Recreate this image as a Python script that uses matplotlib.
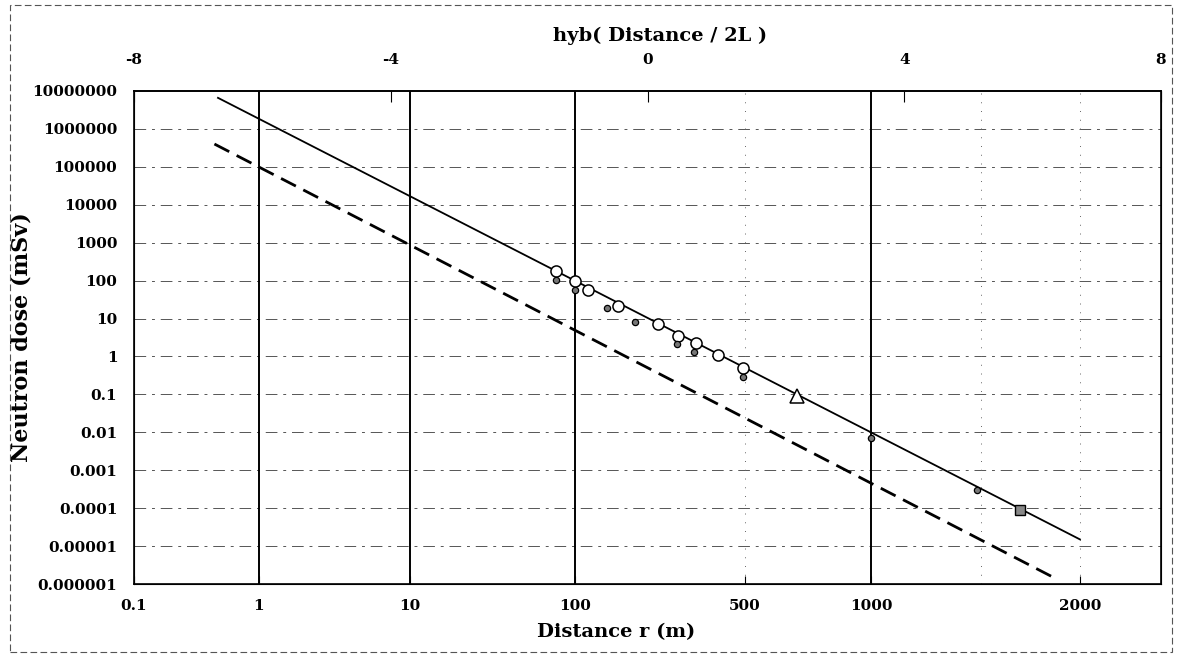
import numpy as np
import matplotlib
matplotlib.use('Agg')
import matplotlib.pyplot as plt
from matplotlib.patches import Rectangle
from matplotlib.ticker import NullLocator

# ---- hybrid distance scale calibration: distance r (m) -> hyb(Distance/2L)
CAL_R = [0.1, 1, 10, 100, 500, 1000, 1500, 2000, 2500]
CAL_U = [-8.0, -6.053, -3.700, -1.130, 1.519, 3.482, 5.195, 6.737, 8.0]

# ---- fitted curves (end points)
SOLID_R = [0.47, 2000]
SOLID_D = [6.6e6, 1.5e-5]
DASHED_R = [0.44, 1840]
DASHED_D = [4.0e5, 1.6e-6]

# ---- measured points
OPEN_R = [77, 100, 113, 150, 220, 265, 314, 388, 491]
OPEN_D = [180, 95, 58, 22, 7.2, 3.5, 2.2, 1.1, 0.5]
FILLED_R = [77, 100, 136, 176, 262, 309, 491, 1000, 1480]
FILLED_D = [105, 58, 19, 8.0, 2.1, 1.3, 0.29, 0.0071, 0.0003]
TRI_R = [665]
TRI_D = [0.09]
SQ_R = [1680]
SQ_D = [9.1e-5]

# ---- ticks
X_TICKS = [0.1, 1, 10, 100, 500, 1000, 2000]
X_LABELS = ['0.1', '1', '10', '100', '500', '1000', '2000']
X_SOLID_GRID = [1, 10, 100, 1000]
X_DOT_GRID = [500, 1500, 2000]
Y_TICKS = [1e-6, 1e-5, 1e-4, 1e-3, 1e-2, 1e-1, 1, 10, 100, 1e3, 1e4, 1e5, 1e6, 1e7]
Y_LABELS = ['0.000001', '0.00001', '0.0001', '0.001', '0.01', '0.1', '1', '10',
            '100', '1000', '10000', '100000', '1000000', '10000000']
TOP_TICKS = [-8, -4, 0, 4, 8]

LOG_CAL = np.log10(CAL_R)
S0 = (CAL_U[1] - CAL_U[0]) / (LOG_CAL[1] - LOG_CAL[0])
S1 = (CAL_U[-1] - CAL_U[-2]) / (LOG_CAL[-1] - LOG_CAL[-2])


def fwd(r):
    x = np.log10(np.clip(np.asarray(r, float), 1e-12, None))
    y = np.interp(x, LOG_CAL, CAL_U)
    y = np.where(x < LOG_CAL[0], CAL_U[0] + (x - LOG_CAL[0]) * S0, y)
    y = np.where(x > LOG_CAL[-1], CAL_U[-1] + (x - LOG_CAL[-1]) * S1, y)
    return y


def inv(u):
    u = np.asarray(u, float)
    x = np.interp(u, CAL_U, LOG_CAL)
    x = np.where(u < CAL_U[0], LOG_CAL[0] + (u - CAL_U[0]) / S0, x)
    x = np.where(u > CAL_U[-1], LOG_CAL[-1] + (u - CAL_U[-1]) / S1, x)
    return 10.0 ** x


plt.rcParams['font.family'] = ['DejaVu Serif']

W, H = 1181, 657
fig = plt.figure(figsize=(W / 100, H / 100), dpi=100)
L, R, T, B = 134, 1161, 91, 584
ax = fig.add_axes([L / W, 1 - B / H, (R - L) / W, (B - T) / H])

XMIN, XMAX = 0.1, 2500
ax.set_xscale('function', functions=(fwd, inv))
ax.set_yscale('log')
ax.set_xlim(XMIN, XMAX)
ax.set_ylim(1e-6, 1e7)

# grid
for yv in Y_TICKS[1:-1]:
    ax.axhline(yv, color='#555555', lw=0.7, ls=(0, (12, 6, 3, 6)), zorder=1)
for xv in X_SOLID_GRID:
    ax.axvline(xv, color='black', lw=1.4, zorder=1)
for xv in X_DOT_GRID:
    ax.axvline(xv, color='#666666', lw=0.7, ls=(0, (1, 8)), zorder=1)

# curves
ax.plot(SOLID_R, SOLID_D, color='black', lw=1.3, zorder=3)
ax.plot(DASHED_R, DASHED_D, color='black', lw=2.0, ls=(0, (6, 3)), zorder=3)

# points
ax.plot(OPEN_R, OPEN_D, ls='none', marker='o', ms=8, mfc='white', mec='black',
        mew=1.1, zorder=4)
ax.plot(FILLED_R, FILLED_D, ls='none', marker='o', ms=4.5, mfc='#777777', mec='black',
        mew=0.9, zorder=5)
ax.plot(TRI_R, TRI_D, ls='none', marker='^', ms=10.5, mfc='white', mec='black',
        mew=1.1, zorder=4)
ax.plot(SQ_R, SQ_D, ls='none', marker='s', ms=7, mfc='#888888', mec='black',
        mew=1.0, zorder=4)

# ticks
tick_font = dict(family='DejaVu Serif', weight='bold', size=11)
ax.set_xticks(X_TICKS)
ax.set_xticklabels(X_LABELS, **tick_font)
ax.xaxis.set_minor_locator(NullLocator())
ax.set_yticks(Y_TICKS)
ax.set_yticklabels(Y_LABELS, **tick_font)
ax.yaxis.set_minor_locator(NullLocator())
ax.tick_params(axis='x', direction='in', length=6, pad=11)
ax.tick_params(axis='y', direction='in', length=0, pad=12)

for sp in ax.spines.values():
    sp.set_linewidth(1.2)
    sp.set_color('black')

# top axis: linear hyb coordinate, aligned with the hybrid scale of the bottom axis
top = ax.twiny()
top.set_xlim(float(fwd(XMIN)), float(fwd(XMAX)))
top.set_xticks(TOP_TICKS)
top.set_xticklabels([str(t) for t in TOP_TICKS], **tick_font)
top.xaxis.set_minor_locator(NullLocator())
top.tick_params(axis='x', direction='in', length=8, pad=17)
top.spines['top'].set_linewidth(1.2)

ax.set_xlabel('Distance r (m)', family='DejaVu Serif', weight='bold', size=14)
ax.set_ylabel('Neutron dose (mSv)', family='DejaVu Serif', weight='bold', size=16)
ax.yaxis.set_label_coords((33 - L) / (R - L), 0.5)
ax.xaxis.set_label_coords((616 - L) / (R - L), -(623 - B) / (B - T))
top.set_xlabel('hyb( Distance / 2L )', family='DejaVu Serif', weight='bold', size=14)
top.xaxis.set_label_coords((660 - L) / (R - L), 1 + (T - 41) / (B - T))

# scanned page frame
fig.patches.append(Rectangle((10 / W, 5 / H), 1162 / W, 647 / H, transform=fig.transFigure,
                             fill=False, lw=0.8, ls=(0, (6, 3)), ec='#555555'))

fig.savefig('out.png', dpi=100)
